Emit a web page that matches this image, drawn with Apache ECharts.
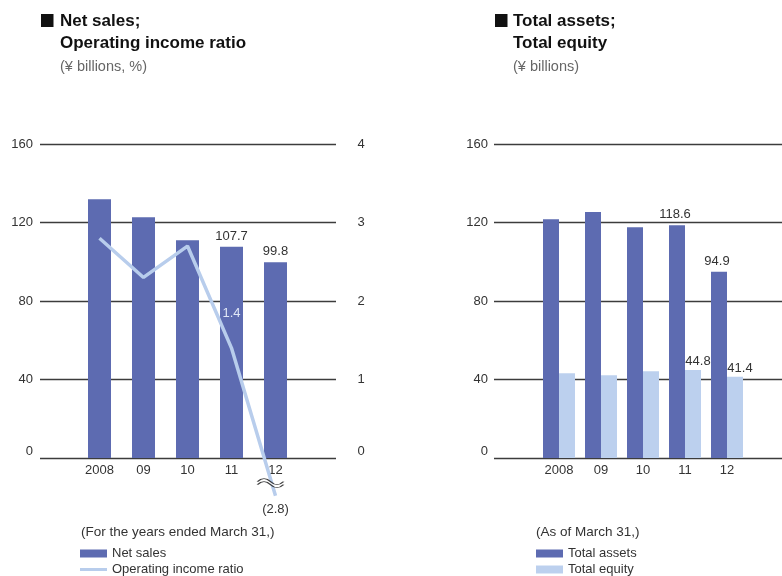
<!DOCTYPE html>
<html>
<head>
<meta charset="utf-8">
<script src="https://cdn.jsdelivr.net/npm/echarts@6/dist/echarts.min.js"></script>
<style>
html,body{margin:0;padding:0;background:#fff;}
#c{width:782px;height:576px;}
</style>
</head>
<body>
<div id="c"></div>
<script>
// ---- data ----
const years = ['2008', '09', '10', '11', '12'];
const netSales = [131.9, 122.7, 111.0, 107.7, 99.8];
const netSalesLabelShown = [false, false, false, true, true];
const opIncomeRatio = [2.8, 2.3, 2.7, 1.4, -2.8];           // actual values
const opIncomeRatioPlotted = [2.8, 2.3, 2.7, 1.4, -0.48];   // last point drawn on a broken scale
const opIncomeRatioLabels = ['', '', '', '1.4', '(2.8)'];
const scaleBreakAt = -0.32;                                 // where the break mark sits (right axis units)
const totalAssets = [121.7, 125.3, 117.6, 118.6, 94.9];
const totalEquity = [43.2, 42.2, 44.2, 44.8, 41.4];
const assetsLabelShown = [false, false, false, true, true];
const equityLabelShown = [false, false, false, true, true];

// ---- styles ----
const DARK = '#5d6bb1';
const LIGHT = '#bcd0ee';
const LINE = '#b8cdec';
const GRIDLINE = '#3c3c3c';
const TXT = '#333';
const FONT = '"Liberation Sans", Arial, sans-serif';

const chart = echarts.init(document.getElementById('c'), null, {renderer: 'canvas'});

const zeroFmt = function (v) { return v === 0 ? '{z|0}' : String(v); };
const zeroRich = {z: {fontSize: 13, color: TXT, fontFamily: FONT, padding: [0, 0, 14, 0]}};

function valAxis(grid, opts) {
  return Object.assign({
    type: 'value', gridIndex: grid, min: 0, max: 160, interval: 40,
    axisLine: {show: false}, axisTick: {show: false},
    axisLabel: {show: false}, splitLine: {show: false}
  }, opts);
}

const waveBand = 'path://M0,-1 M24,10 M0,3 C4,-1 8,-1 12,3 C16,7 20,7 24,3 L24,6 C20,10 16,10 12,6 C8,2 4,2 0,6 Z';
const waveLines = 'path://M0,-1 M24,10 M0,3 C4,-1 8,-1 12,3 C16,7 20,7 24,3 M0,6 C4,2 8,2 12,6 C16,10 20,10 24,6';
const lineLegendIcon = 'path://M0,0 M0,2.5 L27,2.5 L27,5.5 L0,5.5 Z M27,8';

const option = {
  animation: false,
  textStyle: {fontFamily: FONT},
  title: [
    {text: 'Net sales;\nOperating income ratio', left: 60, top: 10, padding: 0,
     textStyle: {fontSize: 17, fontWeight: 'bold', color: '#111', lineHeight: 22, fontFamily: FONT}},
    {text: '(¥ billions, %)', left: 60, top: 59, padding: 0,
     textStyle: {fontSize: 14.5, fontWeight: 'normal', color: '#666', fontFamily: FONT}},
    {text: 'Total assets;\nTotal equity', left: 513, top: 10, padding: 0,
     textStyle: {fontSize: 17, fontWeight: 'bold', color: '#111', lineHeight: 22, fontFamily: FONT}},
    {text: '(¥ billions)', left: 513, top: 59, padding: 0,
     textStyle: {fontSize: 14.5, fontWeight: 'normal', color: '#666', fontFamily: FONT}},
    {text: '(For the years ended March 31,)', left: 81, top: 525, padding: 0,
     textStyle: {fontSize: 13.5, fontWeight: 'normal', color: TXT, fontFamily: FONT}},
    {text: '(As of March 31,)', left: 536, top: 525, padding: 0,
     textStyle: {fontSize: 13.5, fontWeight: 'normal', color: TXT, fontFamily: FONT}}
  ],
  graphic: [
    {type: 'rect', left: 41, top: 14, shape: {width: 12.5, height: 13}, style: {fill: '#111'}},
    {type: 'rect', left: 495, top: 14, shape: {width: 12.5, height: 13}, style: {fill: '#111'}}
  ],
  legend: [
    {orient: 'vertical', left: 80, top: 547, height: 60, padding: 0, itemWidth: 27, itemHeight: 8, itemGap: 3,
     textStyle: {fontSize: 13, color: TXT, lineHeight: 13, fontFamily: FONT},
     data: [{name: 'Net sales', icon: 'rect'},
            {name: 'Operating income ratio', icon: lineLegendIcon, itemStyle: {color: LINE, borderWidth: 0}}]},
    {orient: 'vertical', left: 536, top: 547, height: 60, padding: 0, itemWidth: 27, itemHeight: 8, itemGap: 3,
     textStyle: {fontSize: 13, color: TXT, lineHeight: 13, fontFamily: FONT},
     data: [{name: 'Total assets', icon: 'rect'}, {name: 'Total equity', icon: 'rect'}]}
  ],
  grid: [
    {left: 40, width: 296, top: 144, bottom: 118},   // left gridlines
    {left: 77.5, width: 220, top: 144, bottom: 118}, // left marks
    {left: 494, right: 0, top: 144, bottom: 118},    // right gridlines
    {left: 538, width: 210, top: 144, bottom: 118}   // right marks
  ],
  xAxis: [
    {type: 'category', gridIndex: 0, data: years, show: false},
    {type: 'category', gridIndex: 1, data: years,
     axisLine: {show: false}, axisTick: {show: false},
     axisLabel: {color: TXT, fontSize: 13, margin: 6, fontFamily: FONT}},
    {type: 'category', gridIndex: 2, data: years, show: false},
    {type: 'category', gridIndex: 3, data: years,
     axisLine: {show: false}, axisTick: {show: false},
     axisLabel: {color: TXT, fontSize: 13, margin: 6, fontFamily: FONT}}
  ],
  yAxis: [
    valAxis(0, {axisLabel: {show: true, color: TXT, fontSize: 13, margin: 7, formatter: zeroFmt, rich: zeroRich, fontFamily: FONT},
                splitLine: {show: true, lineStyle: {color: GRIDLINE, width: 1.3}}}),
    valAxis(1, {}),
    {type: 'value', gridIndex: 1, position: 'right', min: 0, max: 4, interval: 1,
     axisLine: {show: false}, axisTick: {show: false}, splitLine: {show: false},
     axisLabel: {show: true, color: TXT, fontSize: 13, margin: 60, formatter: zeroFmt, rich: zeroRich, fontFamily: FONT}},
    valAxis(2, {axisLabel: {show: true, color: TXT, fontSize: 13, margin: 6, formatter: zeroFmt, rich: zeroRich, fontFamily: FONT},
                splitLine: {show: true, lineStyle: {color: GRIDLINE, width: 1.3}}}),
    valAxis(3, {})
  ],
  series: [
    {name: 'Net sales', type: 'bar', xAxisIndex: 1, yAxisIndex: 1, barWidth: 23,
     itemStyle: {color: DARK},
     label: {position: 'top', distance: 4, color: TXT, fontSize: 13, fontFamily: FONT,
             formatter: p => p.value.toFixed(1)},
     data: netSales.map((v, i) => ({value: v, label: {show: netSalesLabelShown[i]}}))},
    {name: 'Operating income ratio', type: 'line', xAxisIndex: 1, yAxisIndex: 2,
     symbol: 'circle', symbolSize: 0.1, showSymbol: true, clip: false, z: 5,
     lineStyle: {color: LINE, width: 3.5}, itemStyle: {color: LINE},
     data: opIncomeRatioPlotted.map((v, i) => ({
       value: v,
       label: i === 4
         ? {show: true, position: 'bottom', distance: 7, color: TXT, fontSize: 13, fontFamily: FONT, formatter: opIncomeRatioLabels[i]}
         : {show: opIncomeRatioLabels[i] !== '', position: 'top', distance: 28, color: '#dfe6f6', fontSize: 13, fontFamily: FONT, formatter: opIncomeRatioLabels[i]}
     }))},
    {name: 'break', type: 'scatter', xAxisIndex: 1, yAxisIndex: 2, clip: false, z: 6, silent: true,
     symbolSize: [26, 11], symbolOffset: [-5, 0],
     data: [
       {value: [years[4], scaleBreakAt], symbol: waveBand, itemStyle: {color: '#fff', borderWidth: 0}},
       {value: [years[4], scaleBreakAt], symbol: waveLines, itemStyle: {color: 'rgba(255,255,255,0)', borderColor: '#111', borderWidth: 1.3}}
     ]},
    {name: 'Total assets', type: 'bar', xAxisIndex: 3, yAxisIndex: 4, barWidth: 16, barGap: '0%',
     itemStyle: {color: DARK},
     label: {position: 'top', distance: 4, color: TXT, fontSize: 13, fontFamily: FONT, offset: [-2, 0],
             formatter: p => p.value.toFixed(1)},
     data: totalAssets.map((v, i) => ({value: v, label: {show: assetsLabelShown[i]}}))},
    {name: 'Total equity', type: 'bar', xAxisIndex: 3, yAxisIndex: 4, barWidth: 16, barGap: '0%',
     itemStyle: {color: LIGHT},
     label: {position: 'top', distance: 2, color: TXT, fontSize: 13, fontFamily: FONT, offset: [5, 0],
             formatter: p => p.value.toFixed(1)},
     data: totalEquity.map((v, i) => ({value: v, label: {show: equityLabelShown[i]}}))}
  ]
};
chart.setOption(option);
</script>
</body>
</html>
